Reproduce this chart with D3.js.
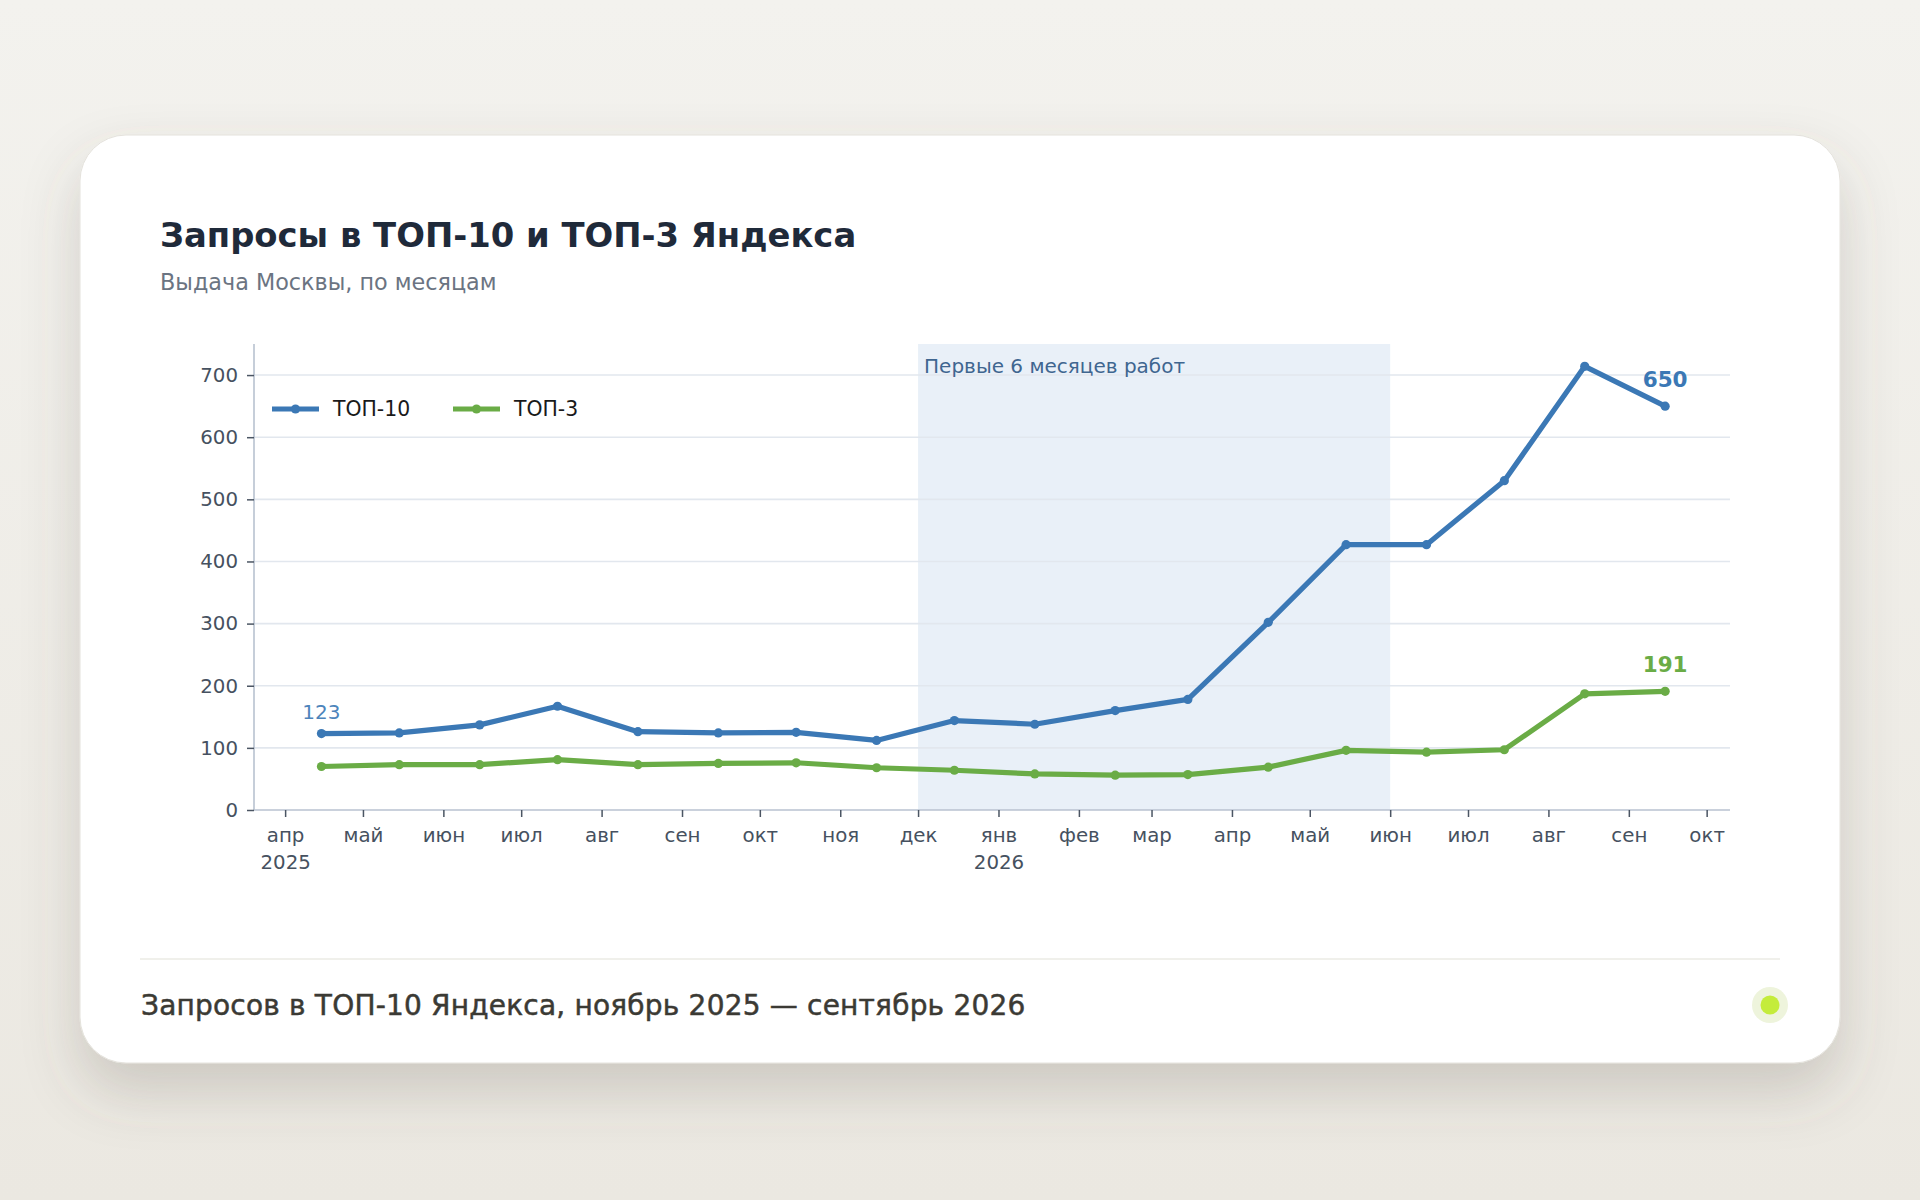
<!DOCTYPE html>
<html>
<head>
<meta charset="utf-8">
<script src="https://cdn.jsdelivr.net/npm/d3@7"></script>
<style>
  html, body { margin: 0; padding: 0; }
  body { width: 1920px; height: 1200px; overflow: hidden; }
  svg text { font-family: "DejaVu Sans", sans-serif; }
</style>
</head>
<body>
<svg id="chart" width="1920" height="1200"></svg>
<script>
// data
var pointDates = ["2025-04-15", "2025-05-15", "2025-06-15", "2025-07-15", "2025-08-15", "2025-09-15",
  "2025-10-15", "2025-11-15", "2025-12-15", "2026-01-15", "2026-02-15", "2026-03-15",
  "2026-04-15", "2026-05-15", "2026-06-15", "2026-07-15", "2026-08-15", "2026-09-15"];
var top10 = [123, 124, 137, 167, 126, 124, 125, 112, 144, 138, 160, 178, 302, 427, 427, 530, 714, 650];
var top3 = [70, 73, 73, 81, 73, 75, 76, 68, 64, 58, 56, 57, 69, 96, 93, 97, 187, 191];
var monthNames = ["янв", "фев", "мар", "апр", "май", "июн", "июл", "авг", "сен", "окт", "ноя", "дек"];
var yTicks = [0, 100, 200, 300, 400, 500, 600, 700];
var shadeRange = ["2025-12-01", "2026-06-01"];
var seriesNames = ["ТОП-10", "ТОП-3"];

var blue = "#3b78b5", green = "#6aac46";
var parse = d3.timeParse("%Y-%m-%d");
var dates = pointDates.map(parse);

var svg = d3.select("#chart");
var defs = svg.append("defs");

var bg = defs.append("linearGradient").attr("id", "bg")
  .attr("x1", 0).attr("y1", 0).attr("x2", 0).attr("y2", 1);
bg.append("stop").attr("offset", "0%").attr("stop-color", "#f3f2ee");
bg.append("stop").attr("offset", "100%").attr("stop-color", "#ebe8e1");

var sh = defs.append("filter").attr("id", "shadow")
  .attr("x", "-10%").attr("y", "-10%").attr("width", "120%").attr("height", "130%");
sh.append("feDropShadow").attr("dx", 0).attr("dy", 28).attr("stdDeviation", 28)
  .attr("flood-color", "#5a5548").attr("flood-opacity", 0.22);

svg.append("rect").attr("width", 1920).attr("height", 1200).attr("fill", "url(#bg)");

// card
svg.append("rect")
  .attr("x", 80).attr("y", 135).attr("width", 1760).attr("height", 928)
  .attr("rx", 46).attr("ry", 46)
  .attr("fill", "#ffffff").attr("stroke", "#e4e2dc").attr("stroke-width", 1)
  .attr("filter", "url(#shadow)");

// titles
svg.append("text").attr("x", 160).attr("y", 247)
  .attr("font-size", 33.8).attr("font-weight", "bold").attr("fill", "#1f2a3a")
  .text("Запросы в ТОП-10 и ТОП-3 Яндекса");
svg.append("text").attr("x", 160).attr("y", 290)
  .attr("font-size", 22.3).attr("fill", "#6b7482")
  .text("Выдача Москвы, по месяцам");

// plot area
var plotLeft = 254, plotRight = 1730, plotTop = 344, plotBottom = 810;
var padDays = 25.9;
var x = d3.scaleTime()
  .domain([d3.timeDay.offset(dates[0], -padDays), d3.timeDay.offset(dates[dates.length - 1], padDays)])
  .range([plotLeft, plotRight]);
var y = d3.scaleLinear().domain([0, 750]).range([plotBottom, plotTop]);

var g = svg.append("g");

// shaded period
g.append("rect")
  .attr("x", x(parse(shadeRange[0])))
  .attr("y", plotTop)
  .attr("width", x(parse(shadeRange[1])) - x(parse(shadeRange[0])))
  .attr("height", plotBottom - plotTop)
  .attr("fill", "#e9f0f8");

// grid
g.selectAll("line.grid").data(yTicks.slice(1)).enter().append("line")
  .attr("class", "grid")
  .attr("x1", plotLeft).attr("x2", plotRight)
  .attr("y1", function(d) { return y(d); })
  .attr("y2", function(d) { return y(d); })
  .attr("stroke", "#e2e7ee").attr("stroke-width", 1.6);

g.append("text")
  .attr("x", x(parse(shadeRange[0])) + 6).attr("y", plotTop + 29)
  .attr("font-size", 20).attr("fill", "#3f6690")
  .text("Первые 6 месяцев работ");

// axes
var yAxis = g.append("g").attr("transform", "translate(" + plotLeft + ",0)")
  .call(d3.axisLeft(y).tickValues(yTicks).tickSize(7).tickPadding(9));
var xAxis = g.append("g").attr("transform", "translate(0," + plotBottom + ")")
  .call(d3.axisBottom(x).ticks(d3.timeMonth.every(1)).tickSize(7).tickPadding(11)
    .tickFormat(function(d) { return monthNames[d.getMonth()]; }));

[xAxis, yAxis].forEach(function(a) {
  a.select(".domain").attr("stroke", "#b8c2d0").attr("stroke-width", 1.6);
  a.selectAll(".tick line").attr("stroke", "#4b5563").attr("stroke-width", 1.5);
  a.selectAll(".tick text").attr("font-size", 19.8).attr("fill", "#465160")
    .attr("font-family", "DejaVu Sans, sans-serif");
});
yAxis.select(".domain").attr("d", "M0," + plotTop + "V" + plotBottom);
xAxis.select(".domain").attr("d", "M" + plotLeft + ",0H" + plotRight);

// second line with the year for first tick and january
var firstTick = true;
xAxis.selectAll(".tick text").each(function(d) {
  if (firstTick || d.getMonth() === 0) {
    d3.select(this).append("tspan")
      .attr("x", 0).attr("dy", "1.35em")
      .text(d.getFullYear());
  }
  firstTick = false;
});

// lines
var series = [
  {name: seriesNames[0], values: top10, color: blue},
  {name: seriesNames[1], values: top3, color: green}
];
var line = d3.line()
  .x(function(d, i) { return x(dates[i]); })
  .y(function(d) { return y(d); });

series.forEach(function(s) {
  g.append("path").datum(s.values)
    .attr("d", line)
    .attr("fill", "none").attr("stroke", s.color)
    .attr("stroke-width", 5.2).attr("stroke-linejoin", "round");
  g.selectAll(null).data(s.values).enter().append("circle")
    .attr("cx", function(d, i) { return x(dates[i]); })
    .attr("cy", function(d) { return y(d); })
    .attr("r", 4.6).attr("fill", s.color);
});

// value labels
var last = dates.length - 1;
g.append("text")
  .attr("x", x(dates[0])).attr("y", y(top10[0]) - 15)
  .attr("text-anchor", "middle").attr("font-size", 20).attr("fill", "#4d84bb")
  .text(top10[0]);
g.append("text")
  .attr("x", x(dates[last])).attr("y", y(top10[last]) - 19)
  .attr("text-anchor", "middle").attr("font-size", 21.5).attr("font-weight", "bold").attr("fill", blue)
  .text(top10[last]);
g.append("text")
  .attr("x", x(dates[last])).attr("y", y(top3[last]) - 19)
  .attr("text-anchor", "middle").attr("font-size", 21.5).attr("font-weight", "bold").attr("fill", green)
  .text(top3[last]);

// legend
var legend = g.append("g").attr("transform", "translate(272,409)");
series.forEach(function(s, i) {
  var lg = legend.append("g").attr("transform", "translate(" + (i * 181) + ",0)");
  lg.append("line").attr("x1", 0).attr("x2", 47).attr("y1", 0).attr("y2", 0)
    .attr("stroke", s.color).attr("stroke-width", 5.2);
  lg.append("circle").attr("cx", 23.5).attr("cy", 0).attr("r", 4.6).attr("fill", s.color);
  lg.append("text").attr("x", 61).attr("y", 7)
    .attr("font-size", 20.4).attr("fill", "#1a1a1a").text(s.name);
});

// footer
svg.append("line").attr("x1", 140).attr("x2", 1780).attr("y1", 959).attr("y2", 959)
  .attr("stroke", "#ebebe4").attr("stroke-width", 1.5);
svg.append("text").attr("x", 141).attr("y", 1015)
  .attr("font-family", "Inter, Roboto, sans-serif").attr("font-size", 28).attr("font-weight", 500)
  .attr("fill", "#3b3a34").attr("stroke", "#3b3a34").attr("stroke-width", 0.5)
  .attr("letter-spacing", 0.2)
  .text("Запросов в ТОП-10 Яндекса, ноябрь 2025 — сентябрь 2026");
svg.append("circle").attr("cx", 1770).attr("cy", 1005).attr("r", 18).attr("fill", "#eef4dc");
svg.append("circle").attr("cx", 1770).attr("cy", 1005).attr("r", 9.5).attr("fill", "#c4ec3b");
</script>
</body>
</html>
